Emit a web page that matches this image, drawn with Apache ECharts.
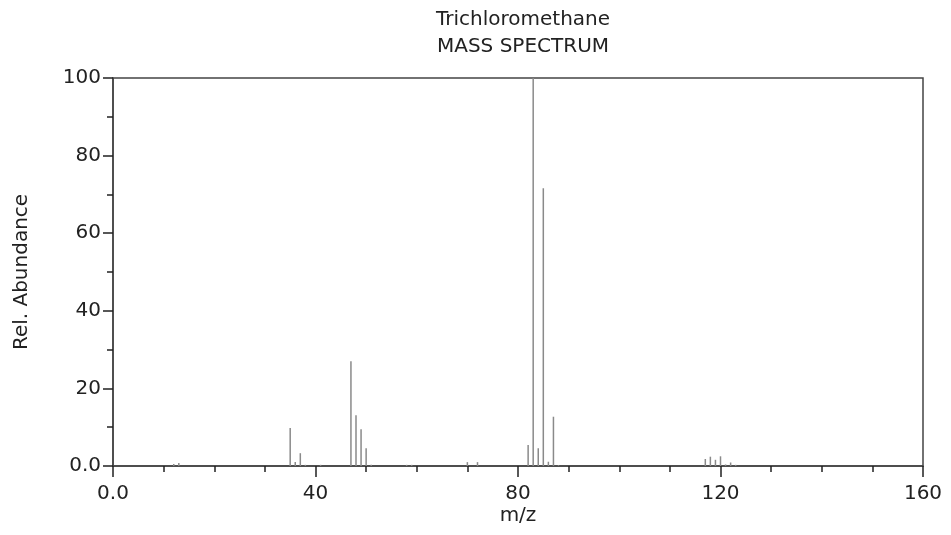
<!DOCTYPE html>
<html>
<head>
<meta charset="utf-8">
<script src="https://cdn.jsdelivr.net/npm/echarts@6/dist/echarts.min.js"></script>
<style>
  html, body { margin: 0; padding: 0; background: #fff; }
  #chart { width: 951px; height: 535px; }
</style>
</head>
<body>
<div id="chart"></div>
<script>
// m/z values and relative abundances
var mzValues = [12, 13, 35, 36, 37, 38, 41, 47, 48, 49, 50, 51, 58, 59, 70, 72, 82, 83, 84, 85, 86, 87, 88, 117, 118, 119, 120, 121, 122, 123];
var abundance = [0.5, 0.8, 9.8, 1.0, 3.3, 0.3, 0.3, 27.0, 13.1, 9.5, 4.6, 0.3, 0.3, 0.3, 1.0, 1.0, 5.4, 100, 4.6, 71.6, 1.1, 12.7, 0.2, 1.8, 2.4, 1.6, 2.5, 0.4, 0.9, 0.3];

var xTicks = { min: 0, max: 160, step: 40 };
var yTicks = { min: 0, max: 100, step: 20 };

var peaks = [];
for (var i = 0; i < mzValues.length; i++) {
  peaks.push([mzValues[i], abundance[i]]);
}

var chart = echarts.init(document.getElementById('chart'));
var font = 'DejaVu Sans';

var option = {
  animation: false,
  title: {
    text: 'Trichloromethane\nMASS SPECTRUM',
    left: 518,
    textAlign: 'center',
    top: 1,
    textStyle: { fontFamily: font, fontSize: 20, fontWeight: 'normal', color: '#222', lineHeight: 27 }
  },
  grid: {
    left: 113, right: 28, top: 78, bottom: 69,
    show: true, borderColor: '#444', borderWidth: 1.5, backgroundColor: 'transparent'
  },
  xAxis: {
    type: 'value',
    min: xTicks.min, max: xTicks.max, interval: xTicks.step,
    name: 'm/z',
    nameLocation: 'middle',
    nameGap: 40,
    nameMoveOverlap: false,
    nameTextStyle: { fontFamily: font, fontSize: 20, color: '#222' },
    axisLine: { lineStyle: { color: '#444', width: 1.5 } },
    axisTick: { length: 11, lineStyle: { color: '#222', width: 1.5 } },
    minorTick: { show: true, splitNumber: 4, length: 6, lineStyle: { color: '#222', width: 1.5 } },
    splitLine: { show: false },
    axisLabel: {
      fontFamily: font, fontSize: 20, color: '#222', margin: 18,
      formatter: function (v) { return v === 0 ? '0.0' : String(v); }
    }
  },
  yAxis: {
    type: 'value',
    min: yTicks.min, max: yTicks.max, interval: yTicks.step,
    name: 'Rel. Abundance',
    nameLocation: 'middle',
    nameGap: 81,
    nameMoveOverlap: false,
    nameTextStyle: { fontFamily: font, fontSize: 20, color: '#222' },
    axisLine: { show: true, lineStyle: { color: '#444', width: 1.5 } },
    axisTick: { show: true, length: 10, lineStyle: { color: '#222', width: 1.5 } },
    minorTick: { show: true, splitNumber: 2, length: 6, lineStyle: { color: '#222', width: 1.5 } },
    splitLine: { show: false },
    axisLabel: {
      fontFamily: font, fontSize: 20, color: '#222', margin: 12,
      formatter: function (v) { return v === 0 ? '0.0' : String(v); }
    }
  },
  series: [{
    type: 'custom',
    data: peaks,
    renderItem: function (params, api) {
      var base = api.coord([api.value(0), 0]);
      var top = api.coord([api.value(0), api.value(1)]);
      return {
        type: 'line',
        shape: { x1: base[0], y1: base[1], x2: top[0], y2: top[1] },
        style: { stroke: '#8a8a8a', lineWidth: 1.5 }
      };
    }
  }]
};

chart.setOption(option);
</script>
</body>
</html>
